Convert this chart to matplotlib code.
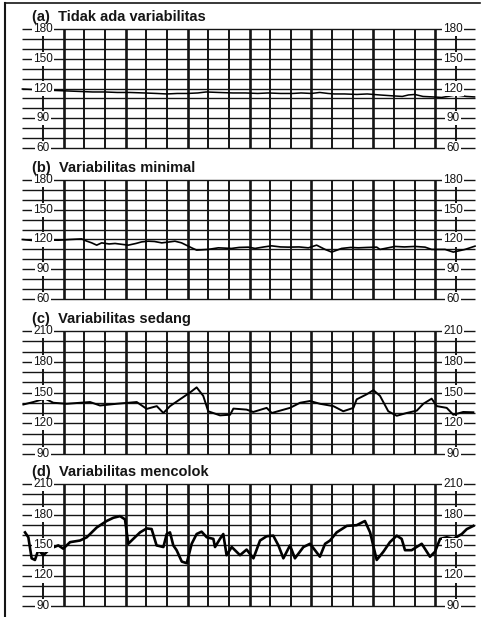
import matplotlib
matplotlib.use("Agg")
import matplotlib.pyplot as plt
from matplotlib.lines import Line2D

plt.rcParams['font.family'] = ['Liberation Sans', 'DejaVu Sans']

# ---- data (time in 20-second grid units, FHR in bpm) ----
a_t = [-1.0, -0.5, 0.0, 0.6, 1.2, 1.8, 2.4, 3.0, 3.6, 4.2, 4.9, 5.5, 6.0, 6.5, 7.0,
       7.5, 7.9, 8.5, 9.2, 9.8, 10.4, 10.9, 11.5, 12.1, 12.5, 13.0, 13.4, 13.8, 14.1,
       14.6, 15.2, 15.7, 16.3, 17.0, 17.4, 17.7, 18.0, 18.4, 18.9, 19.3, 19.6, 20.0,
       20.5, 20.9]
a_bpm = [119.5, 119, 118.5, 118, 117.5, 117, 116.5, 116.5, 116, 116, 115.5, 115, 114.5,
         115, 115, 115.5, 116.5, 116, 115.5, 115.5, 115, 115.5, 115, 115, 115.5, 115,
         116, 115, 114.5, 114.5, 114, 114.5, 113.5, 112.5, 112, 113.5, 114, 112, 111.5,
         111, 112, 113.5, 112, 111.5]

b_t = [-1.0, -0.5, 0.0, 0.74, 1.3, 1.87, 2.1, 2.36, 2.6, 2.84, 3.2, 3.49, 4.13, 4.5,
       4.78, 5.1, 5.4, 5.75, 6.1, 6.39, 6.71, 7.2, 7.44, 8.0, 8.49, 9.13, 9.5, 9.94,
       10.27, 10.7, 11.07, 11.5, 11.88, 12.4, 12.85, 13.25, 13.66, 13.98, 14.46, 14.9,
       15.27, 15.7, 16.16, 16.32, 17.05, 17.5, 18.01, 18.5, 18.82, 19.47, 19.87, 20.44,
       20.92]
b_bpm = [120, 119, 119.5, 119.3, 120, 120.6, 118.5, 116.6, 114.3, 116.6, 115.5, 116,
         114.3, 116, 117.6, 118.3, 118, 116.6, 117.5, 118.3, 116.6, 111.6, 109.3, 110,
         111.6, 111, 112, 112.3, 111, 112.5, 113.6, 112.5, 112.3, 112.5, 111.6, 114.3,
         110, 107.3, 111, 112, 111.6, 112, 112.3, 110, 113, 112.5, 113, 112.3, 110, 110,
         107.3, 110, 113.3]

c_t = [-0.95, -0.47, 0.1, 0.5, 1.15, 2.28, 2.76, 3.57, 4.54, 5.02, 5.51, 5.83, 6.15,
       6.63, 7.12, 7.44, 7.76, 8.0, 8.57, 9.06, 9.22, 9.86, 10.18, 10.83, 11.08, 11.48,
       11.96, 12.45, 12.93, 13.41, 14.06, 14.54, 15.03, 15.19, 15.68, 16.0, 16.32,
       16.72, 17.13, 17.61, 18.1, 18.42, 18.82, 19.07, 19.55, 19.87, 20.35, 20.84]
c_bpm = [138.3, 140.7, 144, 140, 139, 140.7, 137.3, 139, 140.7, 134, 136.7, 130, 136.7,
         143.3, 150, 155, 146.7, 131.7, 127.7, 128.3, 134.3, 133.3, 131, 135, 130, 132.3,
         135, 140, 141.7, 139, 136.7, 131.7, 135, 143.3, 148.3, 152.3, 146.7, 131.7,
         127.3, 130, 132.3, 139, 144, 136.7, 135, 128.3, 131, 130.7]

d_t = [-0.87, -0.71, -0.55, -0.39, -0.23, 0.02, 0.34, 0.74, 0.98, 1.31, 1.79, 2.12,
       2.6, 3.08, 3.41, 3.73, 3.97, 4.13, 4.37, 4.7, 5.02, 5.26, 5.5, 5.83, 5.99, 6.15,
       6.31, 6.47, 6.72, 6.96, 7.2, 7.44, 7.68, 7.93, 8.25, 8.33, 8.57, 8.73, 8.89,
       9.14, 9.54, 9.86, 10.19, 10.51, 10.83, 11.15, 11.4, 11.64, 11.96, 12.2, 12.61,
       12.93, 13.17, 13.41, 13.66, 13.9, 14.22, 14.71, 15.19, 15.59, 15.84, 16.16,
       16.48, 16.8, 17.13, 17.37, 17.53, 17.85, 18.34, 18.74, 18.98, 19.23, 19.55,
       19.87, 20.28, 20.52, 20.84]
d_bpm = [162.4, 157.6, 136.9, 135.3, 144.9, 140, 146.4, 149.6, 146.4, 152.8, 154.4,
         157.6, 167.2, 173.6, 176.8, 178.4, 175.2, 151.2, 156, 162.4, 166.3, 165.7,
         149.6, 148, 160.8, 162.4, 149.6, 144.9, 133.7, 132.1, 151.2, 160.8, 163.1,
         157.6, 156, 148, 156, 160.8, 140, 148, 140, 145.5, 136.9, 154.4, 158.6, 159.2,
         149.6, 136.9, 149.6, 136.9, 148, 151.2, 144.9, 138.5, 151.2, 154.4, 162.4,
         168.8, 169.5, 173.6, 162.4, 135.3, 143.3, 152.8, 159.2, 156, 144.9, 144.9,
         151.2, 138.5, 143.3, 156, 157.6, 156, 160.8, 165.6, 168.8]

titles = ["(a)  Tidak ada variabilitas", "(b)  Variabilitas minimal",
          "(c)  Variabilitas sedang", "(d)  Variabilitas mencolok"]
ranges = [(60, 180), (60, 180), (90, 210), (90, 210)]
label_vals = [[180, 150, 120, 90, 60], [180, 150, 120, 90, 60],
              [210, 180, 150, 120, 90], [210, 180, 150, 120, 90]]
traces = [(a_t, a_bpm), (b_t, b_bpm), (c_t, c_bpm), (d_t, d_bpm)]

# pixel layout of each grid (top, bottom) and title centre
W, H = 484, 617
grid_px = [(29, 148), (180, 299), (331, 454), (484, 606)]
title_px = [17, 168, 319, 472]
trace_lw = [1.1, 1.2, 1.4, 1.9]

X0, X1 = 22, 475           # horizontal line extent in px
AX0, STEP = 43, 20.65      # left axis position and grid spacing in px
T0 = (X0 - AX0) / STEP
T1 = (X1 - AX0) / STEP

fig = plt.figure(figsize=(W / 100, H / 100), dpi=100)
ink = "#151515"

for i in range(4):
    top, bot = grid_px[i]
    ax = fig.add_axes([X0 / W, 1 - bot / H, (X1 - X0) / W, (bot - top) / H])
    ymin, ymax = ranges[i]
    ax.set_xlim(T0, T1)
    ax.set_ylim(ymin, ymax)
    ax.axis("off")

    ax.hlines(list(range(ymin, ymax + 1, 10)), T0, T1, colors=ink, lw=1.0, clip_on=False)
    for k in range(21):
        lw = 1.9 if k % 3 == 1 else 1.4
        ax.vlines(k, ymin, ymax, colors=ink, lw=lw, clip_on=False)

    t, v = traces[i]
    ax.plot(t, v, color="black", lw=trace_lw[i], clip_on=False, zorder=3)

    for val in label_vals[i]:
        for xpos in (0, 19.85):
            ax.text(xpos, val, str(val), ha="center", va="center", fontsize=8.5,
                    color=ink, zorder=5,
                    bbox=dict(boxstyle="square,pad=0.1", fc="white", ec="none"))

    fig.text(32 / W, 1 - title_px[i] / H, titles[i], ha="left", va="center",
             fontsize=10.5, fontweight="bold", color=ink)

# scan frame lines (left and top)
fig.add_artist(Line2D([4.5 / W, 4.5 / W], [0, 1 - 3 / H], color=ink, lw=1.5))
fig.add_artist(Line2D([4.5 / W, 480 / W], [1 - 3 / H, 1 - 3 / H], color=ink, lw=1.2))

fig.savefig("out.png", dpi=100)
